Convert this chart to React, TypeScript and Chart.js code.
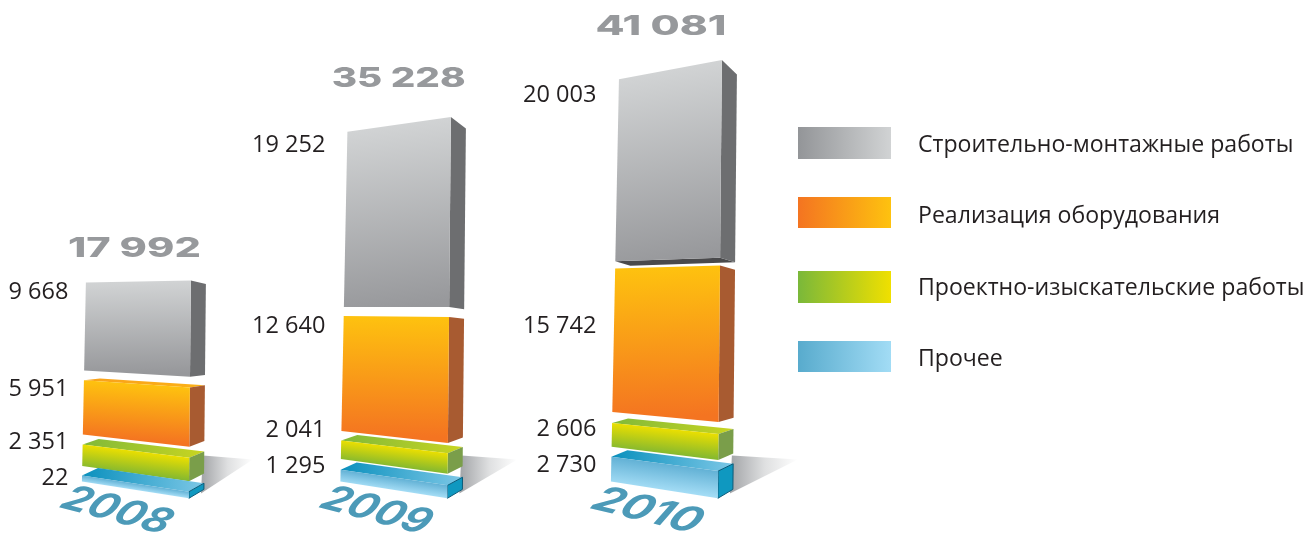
import React, { useEffect, useRef } from "react";
import { Chart, registerables } from "chart.js";

Chart.register(...registerables);

const years = ["2008", "2009", "2010"];
const prochee = [22, 1295, 2730];
const proektnye = [2351, 2041, 2606];
const oborudovanie = [5951, 12640, 15742];
const smr = [9668, 19252, 20003];
const totals = [17992, 35228, 41081];

// transparent separators between the floating blocks of each stack
const gapLow = [1044, 1175, 1100];
const gapMid = [1110, 1033, 1210];
const gapHigh = [1080, 1000, 800];

const legendLabels = [
  "Строительно-монтажные работы",
  "Реализация оборудования",
  "Проектно-изыскательские работы",
  "Прочее",
];

type Look = {
  front: [string, string];
  side: string;
  top: [string, string];
  swatch: [string, string];
  outline?: string;
  labelShift: number[];
};

const looks: Record<string, Look> = {
  gray: { front: ["#d1d3d4", "#97989b"], side: "#6d6e70", top: ["#b9bbbd", "#b9bbbd"], swatch: ["#939598", "#d1d3d4"], labelShift: [8.5, 12, 15] },
  orange: { front: ["#fec20f", "#f47421"], side: "#a85b31", top: ["#f9a11b", "#fbb117"], swatch: ["#f47421", "#fec20f"], labelShift: [7, 9, 56] },
  green: { front: ["#ebdf00", "#86b92f"], side: "#7a9e4a", top: ["#7fb93a", "#c9d520"], swatch: ["#7ab83a", "#f0e000"], labelShift: [-3.5, -12, 5] },
  blue: { front: ["#62b1d5", "#a3dcf5"], side: "#0f98c0", top: ["#0a90bd", "#7cc7e6"], swatch: ["#58abcd", "#a2dcf5"], outline: "#0b5a78", labelShift: [1.5, -5, 7] },
};

const xNudge = [2, -4, 2];
const labelNudge = [1.5, 0, 0.5];
const totalLift = [32, 38, 33];
const totalShift = [-4, -0.5, -9.5];
const totalWidth = [133, 134, 131];
const shadowLen = [50, 56, 66];
const legendRowsY = [127, 197, 271, 341];
const legendRowsH = [32, 31, 32, 31];
const legendTextY = [145, 216, 288, 359];
const TEXT = "#231f20";

const spaced = (v: number) => String(v).replace(/\B(?=(\d{3})+(?!\d))/g, " ");

function geometry(el: any, i: number, base: number) {
  const { x, y, base: b, width } = el.getProps(["x", "y", "base", "width"], true);
  const L = x - width / 2 + xNudge[i];
  const R = x + width / 2 + xNudge[i];
  const pt = (yy: number) => {
    const yr = yy + (yy > 305 ? 0.095 : 0.085) * (yy - 305);
    const xl = L + 0.02 * (base - yy);
    const xr = R + 0.01 * (base - yy);
    return { xl, xr, yl: yy, yr };
  };
  const depth = (yy: number) => (yy > 350 ? -0.06 : -0.05) * (yy - 350);
  return { top: pt(y), bot: pt(b), depth, L, R, y };
}

function poly(ctx: CanvasRenderingContext2D, pts: number[][], fill: any, stroke?: string) {
  ctx.beginPath();
  pts.forEach((p, k) => (k ? ctx.lineTo(p[0], p[1]) : ctx.moveTo(p[0], p[1])));
  ctx.closePath();
  ctx.fillStyle = fill;
  ctx.fill();
  if (stroke) {
    ctx.strokeStyle = stroke;
    ctx.lineWidth = 1;
    ctx.stroke();
  }
}

const blockPlugin = {
  id: "blocks",
  beforeDatasetsDraw(chart: any) {
    const ctx = chart.ctx;
    const base = chart.scales.y.getPixelForValue(0);
    const meta = chart.getDatasetMeta(0);
    meta.data.forEach((el: any, i: number) => {
      const g = geometry(el, i, base);
      const x0 = g.R + 14;
      const g2 = ctx.createLinearGradient(x0, 0, x0 + shadowLen[i], 0);
      g2.addColorStop(0, "#a5a7aa");
      g2.addColorStop(0.5, "#dfe0e1");
      g2.addColorStop(1, "#ffffff");
      poly(ctx, [[x0, base - 26], [x0 + shadowLen[i], base - 22], [x0 - 2, base + 12]], g2);
    });
  },
  beforeDatasetDraw(chart: any, args: any) {
    const ds = chart.data.datasets[args.index];
    if (ds.spacer) return false;
    const look: Look = looks[ds.look];
    const ctx = chart.ctx;
    const base = chart.scales.y.getPixelForValue(0);
    args.meta.data.forEach((el: any, i: number) => {
      const { top, bot, depth, L } = geometry(el, i, base);
      const dTopR = depth(top.yr);
      const dBotR = depth(bot.yr);
      const dTopL = depth(top.yl);
      const dBotL = depth(bot.yl);
      const dx = 15;
      // underside, visible only high above the eye line
      if (dBotL > 4) {
        poly(ctx, [[bot.xl, bot.yl], [bot.xr, bot.yr], [bot.xr + dx, bot.yr + dBotR], [bot.xl + dx, bot.yl + dBotL]], "#4a4a4c");
      }
      // upper face, visible only below the eye line
      if (dTopL < -1) {
        const tg = ctx.createLinearGradient(top.xl, 0, top.xr + dx, 0);
        tg.addColorStop(0, look.top[0]);
        tg.addColorStop(1, look.top[1]);
        poly(ctx, [[top.xl, top.yl], [top.xl + dx + 1, top.yl + dTopL], [top.xr + dx, top.yr + dTopR], [top.xr, top.yr]], tg);
      }
      // right side
      poly(ctx, [[top.xr, top.yr], [top.xr + dx, top.yr + dTopR], [bot.xr + dx, bot.yr + dBotR], [bot.xr, bot.yr]], look.side, look.outline);
      // front with a gradient that follows the tilt of the block
      const w = top.xr - top.xl;
      const d = top.yr - top.yl;
      const len = Math.hypot(w, d);
      const midX = (top.xl + top.xr) / 2;
      const midY = (top.yl + top.yr) / 2;
      const h = (bot.yl + bot.yr) / 2 - midY;
      const fg = ctx.createLinearGradient(midX, midY, midX - (d / len) * h, midY + (w / len) * h);
      fg.addColorStop(0, look.front[0]);
      fg.addColorStop(1, look.front[1]);
      poly(ctx, [[top.xl, top.yl], [top.xr, top.yr], [bot.xr, bot.yr], [bot.xl, bot.yl]], fg);
      // value label
      ctx.save();
      ctx.font = "23.5px 'Open Sans'";
      ctx.fillStyle = TEXT;
      ctx.textAlign = "right";
      ctx.textBaseline = "middle";
      ctx.fillText(spaced(ds.data[i]), L - 15 + labelNudge[i], top.yl + look.labelShift[i] + 1.5);
      ctx.restore();
    });
    return false;
  },
  afterDatasetsDraw(chart: any) {
    const ctx = chart.ctx;
    const base = chart.scales.y.getPixelForValue(0);
    const lastIndex = chart.data.datasets.length - 1;
    const meta = chart.getDatasetMeta(lastIndex);
    meta.data.forEach((el: any, i: number) => {
      const { top, bot } = geometry(el, i, base);
      // total above the stack
      ctx.save();
      ctx.font = "800 27px Inter";
      const text = spaced(totals[i]);
      const mw = ctx.measureText(text).width;
      ctx.translate((top.xl + top.xr) / 2 + totalShift[i], top.yr - totalLift[i]);
      ctx.scale(totalWidth[i] / mw, 1);
      ctx.fillStyle = "#97999c";
      ctx.textAlign = "center";
      ctx.textBaseline = "middle";
      ctx.fillText(text, 0, 0);
      ctx.restore();
      // year, laid on the floor in front of the stack
      ctx.save();
      ctx.font = "italic 700 32px Inter";
      const yw = ctx.measureText(years[i]).width;
      ctx.translate((bot.xl + bot.xr) / 2 - 20, 511);
      ctx.transform(105 / yw, 0.33, -0.62, 1.02, 0, 0);
      ctx.fillStyle = "#4c9ab8";
      ctx.textAlign = "center";
      ctx.textBaseline = "middle";
      ctx.fillText(years[i], 0, 0);
      ctx.restore();
    });
    // legend
    const order = ["gray", "orange", "green", "blue"];
    legendLabels.forEach((label, k) => {
      const look = looks[order[k]];
      const g = ctx.createLinearGradient(798, 0, 891, 0);
      g.addColorStop(0, look.swatch[0]);
      g.addColorStop(1, look.swatch[1]);
      ctx.fillStyle = g;
      ctx.fillRect(798, legendRowsY[k], 93, legendRowsH[k]);
      ctx.save();
      ctx.font = "23.1px 'Open Sans'";
      ctx.fillStyle = TEXT;
      ctx.textAlign = "left";
      ctx.textBaseline = "middle";
      ctx.fillText(label, 918, legendTextY[k]);
      ctx.restore();
    });
  },
};

export default function App() {
  const ref = useRef<HTMLCanvasElement | null>(null);
  useEffect(() => {
    const spacer = (data: number[]) => ({ label: "", data, spacer: true, backgroundColor: "transparent" });
    const chart = new Chart(ref.current as HTMLCanvasElement, {
      type: "bar",
      data: {
        labels: years,
        datasets: [
          { label: legendLabels[3], data: prochee, look: "blue", minBarLength: 6 },
          spacer(gapLow),
          { label: legendLabels[2], data: proektnye, look: "green" },
          spacer(gapMid),
          { label: legendLabels[1], data: oborudovanie, look: "orange" },
          spacer(gapHigh),
          { label: legendLabels[0], data: smr, look: "gray" },
        ] as any,
      },
      options: {
        responsive: false,
        animation: false,
        layout: { padding: { left: 1.15, right: 511.35, top: 0, bottom: 51.5 } },
        datasets: { bar: { barPercentage: 0.4045, categoryPercentage: 1 } },
        scales: {
          x: { stacked: true, display: false },
          y: { stacked: true, display: false, min: 0, max: 52900 },
        },
        plugins: { legend: { display: false }, tooltip: { enabled: false } },
      } as any,
      plugins: [blockPlugin as any],
    });
    return () => chart.destroy();
  }, []);
  return (
    <div style={{ position: "absolute", left: 0, top: 0, width: 1306, height: 533, background: "#fff", overflow: "hidden" }}>
      <canvas ref={ref} width={1306} height={533} style={{ display: "block" }} />
    </div>
  );
}
